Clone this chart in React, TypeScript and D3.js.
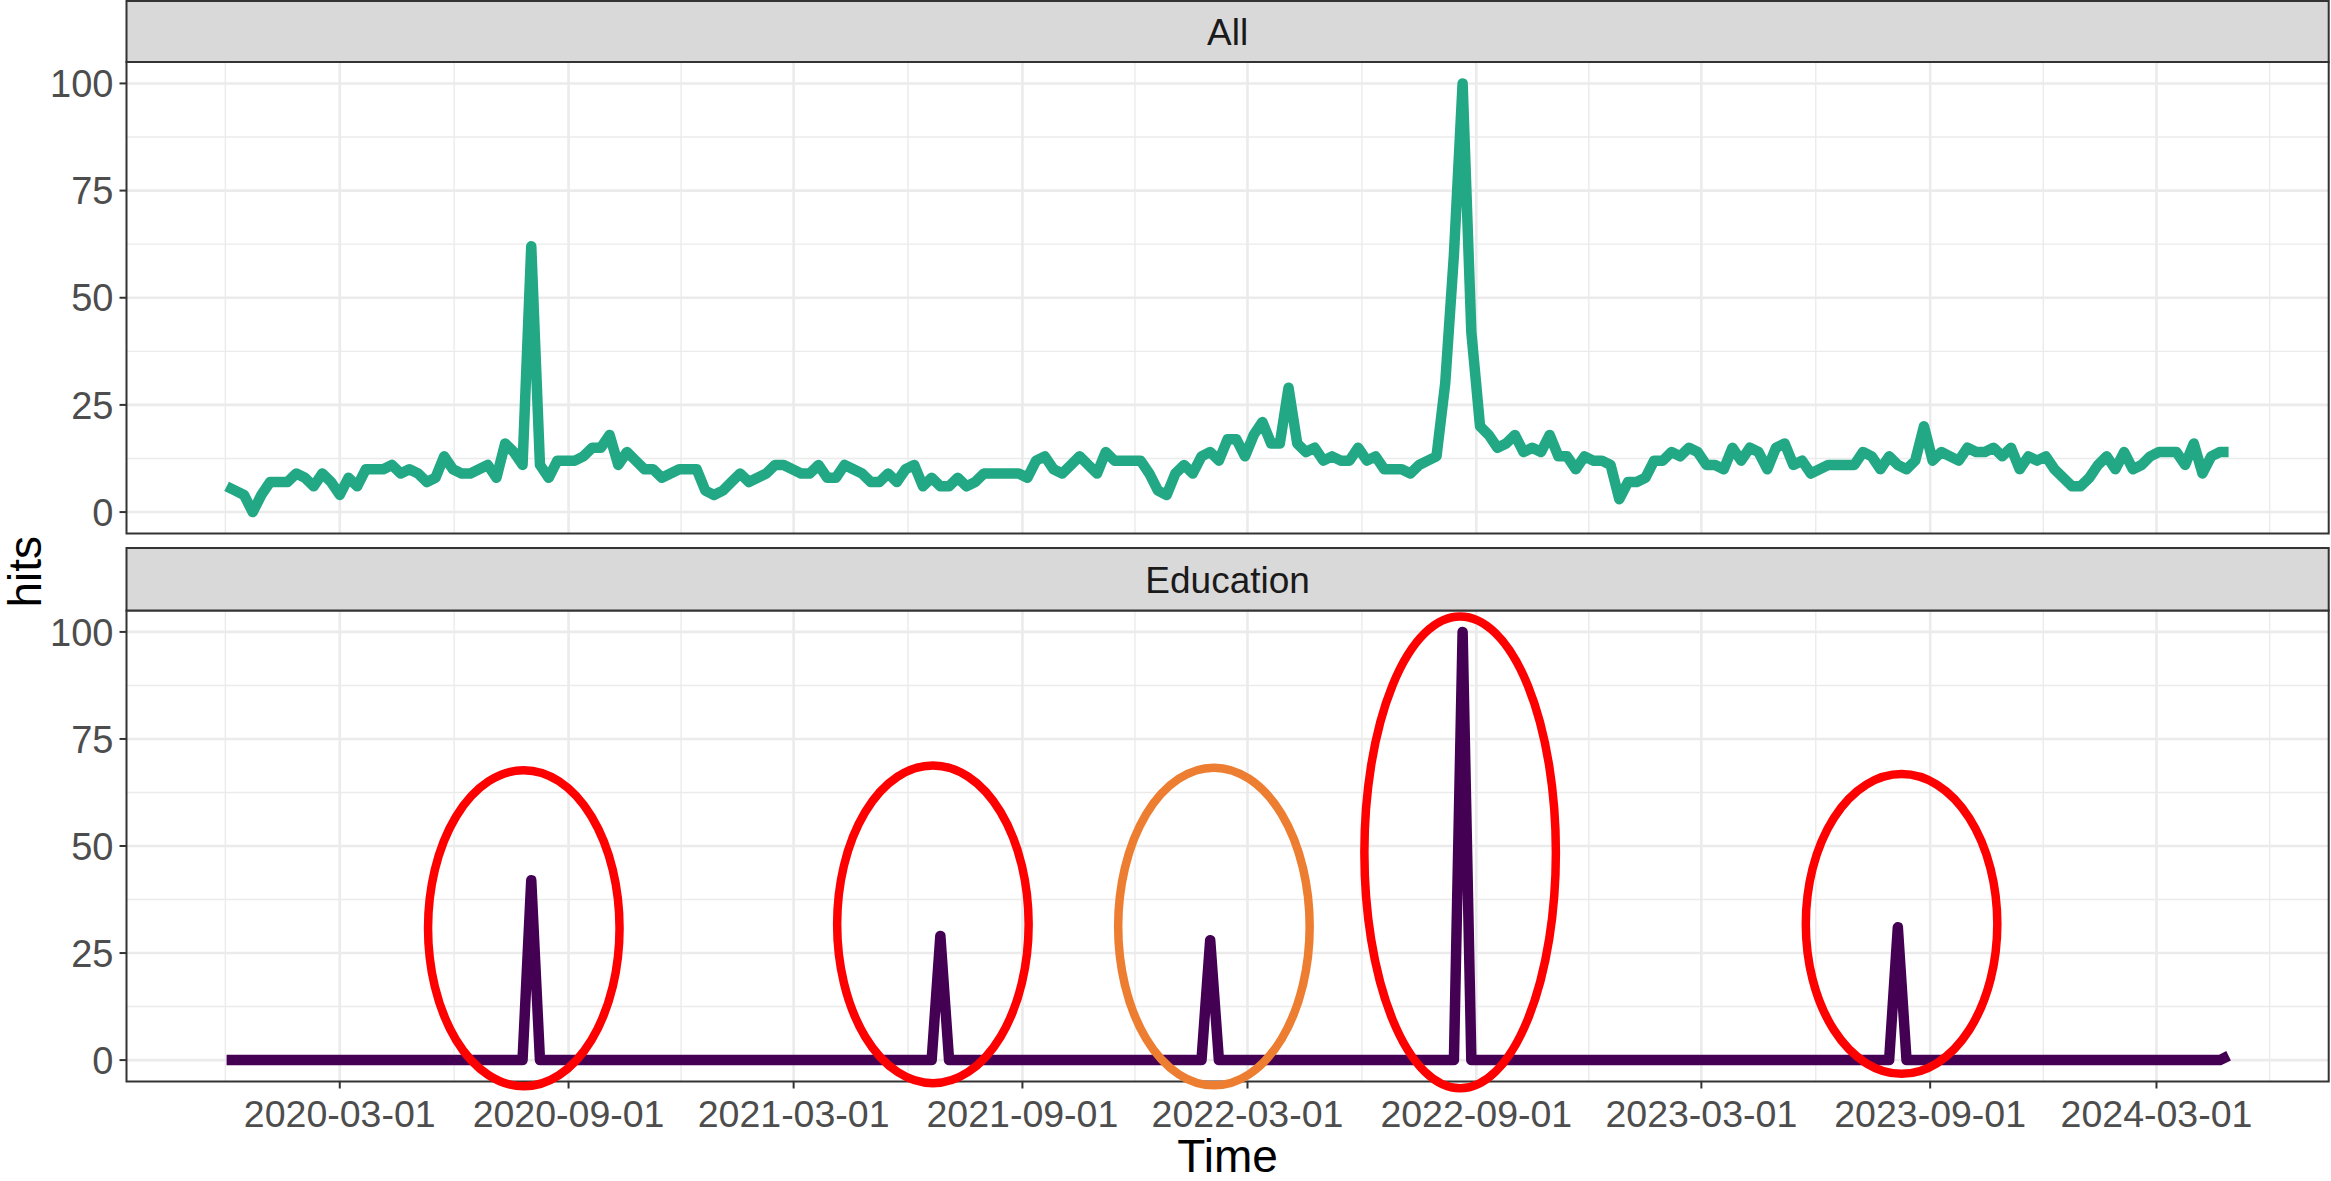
import React from 'react';
import * as d3 from 'd3';

// ---------- data ----------
const START_DATE = '2019-12-01'; // first weekly observation
const panelTitles = ['All', 'Education'];

const allHits = [
  6, 5, 4, 0, 4, 7, 7, 7, 9, 8,
  6, 9, 7, 4, 8, 6, 10, 10, 10, 11,
  9, 10, 9, 7, 8, 13, 10, 9, 9, 10,
  11, 8, 16, 14, 11, 62, 11, 8, 12, 12,
  12, 13, 15, 15, 18, 11, 14, 12, 10, 10,
  8, 9, 10, 10, 10, 5, 4, 5, 7, 9,
  7, 8, 9, 11, 11, 10, 9, 9, 11, 8,
  8, 11, 10, 9, 7, 7, 9, 7, 10, 11,
  6, 8, 6, 6, 8, 6, 7, 9, 9, 9,
  9, 9, 8, 12, 13, 10, 9, 11, 13, 11,
  9, 14, 12, 12, 12, 12, 9, 5, 4, 9,
  11, 9, 13, 14, 12, 17, 17, 13, 18, 21,
  16, 16, 29, 16, 14, 15, 12, 13, 12, 12,
  15, 12, 13, 10, 10, 10, 9, 11, 12, 13,
  30, 60, 100, 42, 20, 18, 15, 16, 18, 14,
  15, 14, 18, 13, 13, 10, 13, 12, 12, 11,
  3, 7, 7, 8, 12, 12, 14, 13, 15, 14,
  11, 11, 10, 15, 12, 15, 14, 10, 15, 16,
  11, 12, 9, 10, 11, 11, 11, 11, 14, 13,
  10, 13, 11, 10, 12, 20, 12, 14, 13, 12,
  15, 14, 14, 15, 13, 15, 10, 13, 12, 13,
  10, 8, 6, 6, 8, 11, 13, 10, 14, 10,
  11, 13, 14, 14, 14, 11, 16, 9, 13, 14,
  14,
];

const educationHits = [
  0, 0, 0, 0, 0, 0, 0, 0, 0, 0,
  0, 0, 0, 0, 0, 0, 0, 0, 0, 0,
  0, 0, 0, 0, 0, 0, 0, 0, 0, 0,
  0, 0, 0, 0, 0, 42, 0, 0, 0, 0,
  0, 0, 0, 0, 0, 0, 0, 0, 0, 0,
  0, 0, 0, 0, 0, 0, 0, 0, 0, 0,
  0, 0, 0, 0, 0, 0, 0, 0, 0, 0,
  0, 0, 0, 0, 0, 0, 0, 0, 0, 0,
  0, 0, 29, 0, 0, 0, 0, 0, 0, 0,
  0, 0, 0, 0, 0, 0, 0, 0, 0, 0,
  0, 0, 0, 0, 0, 0, 0, 0, 0, 0,
  0, 0, 0, 28, 0, 0, 0, 0, 0, 0,
  0, 0, 0, 0, 0, 0, 0, 0, 0, 0,
  0, 0, 0, 0, 0, 0, 0, 0, 0, 0,
  0, 0, 100, 0, 0, 0, 0, 0, 0, 0,
  0, 0, 0, 0, 0, 0, 0, 0, 0, 0,
  0, 0, 0, 0, 0, 0, 0, 0, 0, 0,
  0, 0, 0, 0, 0, 0, 0, 0, 0, 0,
  0, 0, 0, 0, 0, 0, 0, 0, 0, 0,
  0, 0, 31, 0, 0, 0, 0, 0, 0, 0,
  0, 0, 0, 0, 0, 0, 0, 0, 0, 0,
  0, 0, 0, 0, 0, 0, 0, 0, 0, 0,
  0, 0, 0, 0, 0, 0, 0, 0, 0, 0,
  1,
];

const seriesColors = ['#22A884', '#440154'];

const xTickLabels = [
  '2020-03-01', '2020-09-01', '2021-03-01', '2021-09-01', '2022-03-01',
  '2022-09-01', '2023-03-01', '2023-09-01', '2024-03-01',
];
const yTicks = [0, 25, 50, 75, 100];
const yMinorTicks = [12.5, 37.5, 62.5, 87.5];

// annotation ellipses on the Education panel (centre date/value, half-width in days, half-height in hits)
const annotationDates = ['2020-07-27', '2021-06-21', '2022-02-02', '2022-08-19', '2023-08-09'];
const annotationValues = [30.8, 31.7, 31.2, 48.5, 31.8];
const annotationHalfDays = [77, 77, 77, 77, 77];
const annotationHalfHits = [36.9, 37.1, 37.1, 55.1, 35.0];
const annotationColors = ['#FF0000', '#FF0000', '#ED7D31', '#FF0000', '#FF0000'];

// ---------- chart ----------
const W = 2331;
const H = 1181;
const FONT = '"Liberation Sans", Arial, sans-serif';

export default function App() {
  const parse = d3.utcParse('%Y-%m-%d');
  const start = parse(START_DATE) as Date;
  const dates = allHits.map((_, i) => d3.utcDay.offset(start, 7 * i));
  const [d0, d1] = d3.extent(dates) as [Date, Date];
  const span = +d1 - +d0;

  const left = 126.5;
  const right = 2328.7;
  const x = d3
    .scaleUtc()
    .domain([new Date(+d0 - 0.05 * span), new Date(+d1 + 0.05 * span)])
    .range([left, right]);

  const majors = xTickLabels.map((s) => parse(s) as Date);
  const minors: Date[] = [];
  const step0 = +majors[1] - +majors[0];
  minors.push(new Date(+majors[0] - step0 / 2));
  for (let i = 0; i < majors.length - 1; i++) {
    minors.push(new Date((+majors[i] + +majors[i + 1]) / 2));
  }
  const stepN = +majors[majors.length - 1] - +majors[majors.length - 2];
  minors.push(new Date(+majors[majors.length - 1] + stepN / 2));
  const [xd0, xd1] = x.domain();
  const minorsIn = minors.filter((m) => +m >= +xd0 && +m <= +xd1);

  const panels = [
    { strip: [1, 62], body: [62, 533.5], data: allHits },
    { strip: [548, 610.5], body: [610.5, 1081.5], data: educationHits },
  ];

  const gridColor = '#EBEBEB';
  const dark = '#333333';

  return (
    <svg
      width={W}
      height={H}
      style={{ position: 'absolute', left: 0, top: 0, background: '#fff' }}
      fontFamily={FONT}
    >
      <rect x={0} y={0} width={W} height={H} fill="#fff" />
      {panels.map((p, pi) => {
        const y = d3.scaleLinear().domain([-5, 105]).range([p.body[1], p.body[0]]);
        const line = d3
          .line<number>()
          .x((_, i) => x(dates[i]))
          .y((d) => y(d));
        return (
          <g key={pi}>
            <rect x={left} y={p.body[0]} width={right - left} height={p.body[1] - p.body[0]} fill="#fff" />
            {yMinorTicks.map((t) => (
              <line key={'ym' + t} x1={left} x2={right} y1={y(t)} y2={y(t)} stroke={gridColor} strokeWidth={1.4} />
            ))}
            {minorsIn.map((m, i) => (
              <line key={'xm' + i} x1={x(m)} x2={x(m)} y1={p.body[0]} y2={p.body[1]} stroke={gridColor} strokeWidth={1.4} />
            ))}
            {yTicks.map((t) => (
              <line key={'yM' + t} x1={left} x2={right} y1={y(t)} y2={y(t)} stroke={gridColor} strokeWidth={2.6} />
            ))}
            {majors.map((m, i) => (
              <line key={'xM' + i} x1={x(m)} x2={x(m)} y1={p.body[0]} y2={p.body[1]} stroke={gridColor} strokeWidth={2.6} />
            ))}
            <path
              d={line(p.data) || ''}
              fill="none"
              stroke={seriesColors[pi]}
              strokeWidth={10.5}
              strokeLinejoin="round"
              strokeLinecap="butt"
            />
            <rect
              x={left}
              y={p.body[0]}
              width={right - left}
              height={p.body[1] - p.body[0]}
              fill="none"
              stroke={dark}
              strokeWidth={2}
            />
            <rect
              x={left}
              y={p.strip[0]}
              width={right - left}
              height={p.strip[1] - p.strip[0]}
              fill="#D9D9D9"
              stroke={dark}
              strokeWidth={2}
            />
            <text
              x={(left + right) / 2}
              y={(p.strip[0] + p.strip[1]) / 2}
              dy="0.36em"
              textAnchor="middle"
              fontSize={37}
              fill="#1A1A1A"
            >
              {panelTitles[pi]}
            </text>
            {yTicks.map((t) => (
              <g key={'yt' + t}>
                <line x1={left - 7} x2={left} y1={y(t)} y2={y(t)} stroke={dark} strokeWidth={2} />
                <text x={left - 13} y={y(t)} dy="0.36em" textAnchor="end" fontSize={38} fill="#4D4D4D">
                  {t}
                </text>
              </g>
            ))}
            {pi === panels.length - 1 &&
              majors.map((m, i) => (
                <g key={'xt' + i}>
                  <line x1={x(m)} x2={x(m)} y1={p.body[1]} y2={p.body[1] + 7} stroke={dark} strokeWidth={2} />
                  <text x={x(m)} y={1126.5} textAnchor="middle" fontSize={37.5} fill="#4D4D4D">
                    {xTickLabels[i]}
                  </text>
                </g>
              ))}
            {pi === 1 &&
              annotationDates.map((ds, i) => {
                const c = parse(ds) as Date;
                const cx = x(c);
                const rx = x(d3.utcDay.offset(c, annotationHalfDays[i])) - cx;
                const cy = y(annotationValues[i]);
                const ry = y(0) - y(annotationHalfHits[i]);
                return (
                  <ellipse
                    key={'e' + i}
                    cx={cx}
                    cy={cy}
                    rx={rx}
                    ry={ry}
                    fill="none"
                    stroke={annotationColors[i]}
                    strokeWidth={8.5}
                  />
                );
              })}
          </g>
        );
      })}
      <text x={(left + right) / 2} y={1172} textAnchor="middle" fontSize={46} fill="#000">
        Time
      </text>
      <text
        transform={`translate(${41}, ${(62 + 1081.5) / 2}) rotate(-90)`}
        textAnchor="middle"
        fontSize={46}
        fill="#000"
      >
        hits
      </text>
    </svg>
  );
}
